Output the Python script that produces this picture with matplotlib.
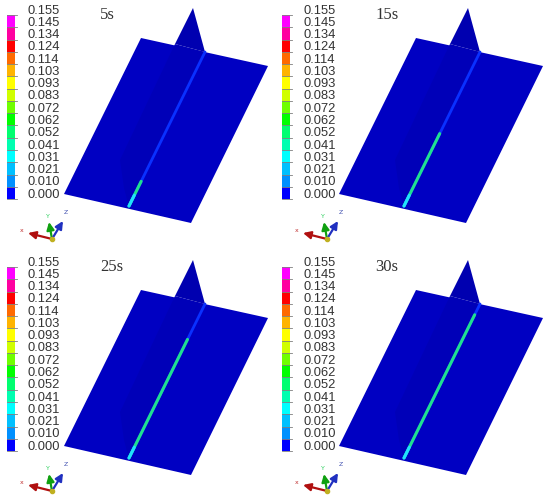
import matplotlib
matplotlib.use("Agg")
import matplotlib.pyplot as plt
import numpy as np

times = ["5s", "15s", "25s", "30s"]
levels = ["0.155", "0.145", "0.134", "0.124", "0.114", "0.103", "0.093", "0.083",
          "0.072", "0.062", "0.052", "0.041", "0.031", "0.021", "0.010", "0.000"]
level_colors = ["#ff00ff", "#ff00a0", "#ff0000", "#ff6a00", "#ffb400", "#ffff00",
                "#d0ff00", "#70ff00", "#00ff00", "#00ff70", "#00ffb0", "#00ffff",
                "#00c0ff", "#0090ff", "#0000ff"]
weld_done = [0.16, 0.47, 0.77, 0.93]
tip_colors = ["#20e090", "#20e090", "#20e090", "#20e090"]

# panel origins, pixels
panel_x = [0, 275, 0, 275]
panel_y = [0, 0, 252, 252]

plate = np.array([[141, 38], [268, 66], [191, 223], [64, 194]])
fin = np.array([[175, 44], [193, 8], [205, 52]])
shade = np.array([[175, 44], [205, 52], [129, 207], [124, 188], [120, 160]])
weld_a = np.array([129, 206])
weld_b = np.array([205, 52])

fig = plt.figure(figsize=(5.5, 4.99), dpi=100)
ax = fig.add_axes([0, 0, 1, 1])
ax.set_xlim(0, 550)
ax.set_ylim(499, 0)
ax.axis("off")


def arrow(c, d, col):
    ax.annotate("", xy=c + d, xytext=c, zorder=9,
                arrowprops=dict(arrowstyle="-|>,head_width=0.22,head_length=0.45", color=col, lw=1.6,
                                mutation_scale=10, shrinkA=0, shrinkB=0))


def draw_panel(ox, oy, label, done, tip):
    o = np.array([ox, oy])
    # colour bar
    bar_top = 15
    step = 12.27
    for i, c in enumerate(level_colors):
        ax.fill_between([ox + 7.3, ox + 15.3], oy + bar_top + i * step, oy + bar_top + (i + 1) * step,
                        color=c, lw=0, zorder=2)
    for i, v in enumerate(levels):
        y = oy + bar_top + i * step
        ax.plot([ox + 7.3, ox + 17], [y, y], color="#808080", lw=0.6, zorder=3)
        ax.text(ox + 28, y - 4.4, v, fontsize=9.3, family="Liberation Sans", color="#333333",
                va="center", ha="left")
    ax.text(ox + 100, oy + 15, label, fontsize=12, family="Liberation Serif", color="#333333",
            va="center", ha="left")

    # plate and stiffener
    ax.fill(*(plate + o).T, color="#0000c2", lw=0, zorder=4)
    ax.fill(*(shade + o).T, color="#0000b8", lw=0, zorder=5)
    ax.fill(*(fin + o).T, color="#0000b0", lw=0, zorder=5)
    a = weld_a + o
    b = weld_b + o
    ax.plot([a[0], b[0]], [a[1], b[1]], color="#0a30ff", lw=2, zorder=6, solid_capstyle="round")
    tip_pt = a + (b - a) * done
    ax.plot([a[0], tip_pt[0]], [a[1], tip_pt[1]], color=tip, lw=2.2, zorder=7, solid_capstyle="round")
    start = a + (b - a) * 0.07
    ax.plot([a[0], start[0]], [a[1], start[1]], color="#20e0ff", lw=2.2, zorder=8, solid_capstyle="round")

    # triad
    c = o + np.array([52, 239])
    arrow(c, np.array([-24, -6]), "#b01010")
    arrow(c, np.array([-3, -17]), "#10a010")
    arrow(c, np.array([11, -18]), "#2030c0")
    ax.plot(*c, "o", ms=3, color="#c0b020", zorder=10)
    ax.text(*(c + [-30, -8]), "x", fontsize=4.5, color="#c03030", ha="center", va="center")
    ax.text(*(c + [-4, -22]), "Y", fontsize=4.5, color="#30d060", ha="center", va="center")
    ax.text(*(c + [14, -27]), "Z", fontsize=4.5, color="#4050b0", ha="center", va="center")


for i in range(4):
    draw_panel(panel_x[i], panel_y[i], times[i], weld_done[i], tip_colors[i])

fig.savefig("out.png", dpi=100)
